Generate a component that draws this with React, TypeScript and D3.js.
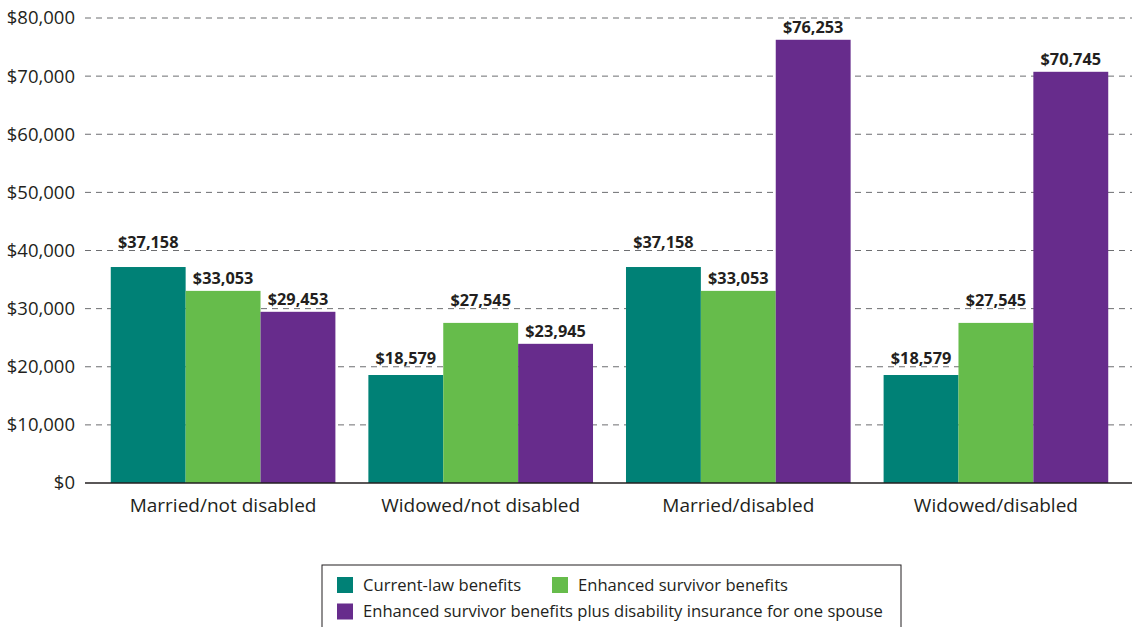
import * as React from "react";
import * as d3 from "d3";

const categories = [
  "Married/not disabled",
  "Widowed/not disabled",
  "Married/disabled",
  "Widowed/disabled",
];
const seriesNames = [
  "Current-law benefits",
  "Enhanced survivor benefits",
  "Enhanced survivor benefits plus disability insurance for one spouse",
];
const currentLaw = [37158, 18579, 37158, 18579];
const enhancedSurvivor = [33053, 27545, 33053, 27545];
const enhancedPlusDisability = [29453, 23945, 76253, 70745];
const yTicks = [0, 10000, 20000, 30000, 40000, 50000, 60000, 70000, 80000];
const colors = ["#008176", "#66bc4b", "#672c8c"];

const W = 1134;
const H = 627;
const FONT = "'Open Sans', 'Noto Sans', sans-serif";
const TEXT = "#231f20";

export default function App() {
  const series = [currentLaw, enhancedSurvivor, enhancedPlusDisability];

  const x0 = d3
    .scaleBand<string>()
    .domain(categories)
    .range([85, 1134])
    .paddingInner(0.128)
    .paddingOuter(0.1);
  const x1 = d3
    .scaleBand<number>()
    .domain(d3.range(series.length))
    .range([0, x0.bandwidth()]);
  const y = d3.scaleLinear().domain([0, 80000]).range([483, 18]);
  const fmt = d3.format("$,");

  // value label sits 7px above the bar, but hops above a gridline it would cross
  function labelBaseline(v: number) {
    let b = y(v) - 7;
    for (const t of yTicks) {
      const gy = y(t);
      if (gy >= b - 13 && gy <= b + 2) b = gy - 2.5;
    }
    return b;
  }

  return (
    <svg width={W} height={H} style={{ position: "absolute", left: 0, top: 0 }} fontFamily={FONT}>
      <rect width={W} height={H} fill="#fff" />
      {yTicks.map((t) => (
        <g key={t}>
          {t > 0 && (
            <line x1={85} x2={1132} y1={y(t)} y2={y(t)} stroke="#6d6e71" strokeWidth={1} strokeDasharray="6,5" />
          )}
          <text x={75} y={y(t)} dy="0.35em" textAnchor="end" fontSize={18.5} fill={TEXT}>
            {fmt(t)}
          </text>
        </g>
      ))}

      {categories.map((c, ci) => (
        <g key={c} transform={`translate(${x0(c)},0)`}>
          {series.map((s, si) => (
            <rect
              key={si}
              x={x1(si)}
              y={y(s[ci])}
              width={x1.bandwidth()}
              height={y(0) - y(s[ci])}
              fill={colors[si]}
            />
          ))}
          {series.map((s, si) => (
            <text
              key={"l" + si}
              x={(x1(si) ?? 0) + x1.bandwidth() / 2}
              y={labelBaseline(s[ci])}
              textAnchor="middle"
              fontSize={16.3}
              fontWeight="bold"
              fill={TEXT}
            >
              {fmt(s[ci])}
            </text>
          ))}
          <text x={x0.bandwidth() / 2} y={512} textAnchor="middle" fontSize={19} fill={TEXT}>
            {c}
          </text>
        </g>
      ))}

      <line x1={85} x2={1132} y1={y(0)} y2={y(0)} stroke="#231f20" strokeWidth={1.5} />

      <rect x={322} y={565} width={579} height={70} fill="none" stroke="#231f20" strokeWidth={1} />
      {[
        { i: 0, x: 337, y: 577 },
        { i: 1, x: 552, y: 577 },
        { i: 2, x: 337, y: 603.5 },
      ].map((d) => (
        <g key={d.i}>
          <rect x={d.x} y={d.y} width={16} height={16} fill={colors[d.i]} />
          <text x={d.x + 26} y={d.y + 8} dy="0.35em" fontSize={16.6} fill={TEXT}>
            {seriesNames[d.i]}
          </text>
        </g>
      ))}
    </svg>
  );
}
